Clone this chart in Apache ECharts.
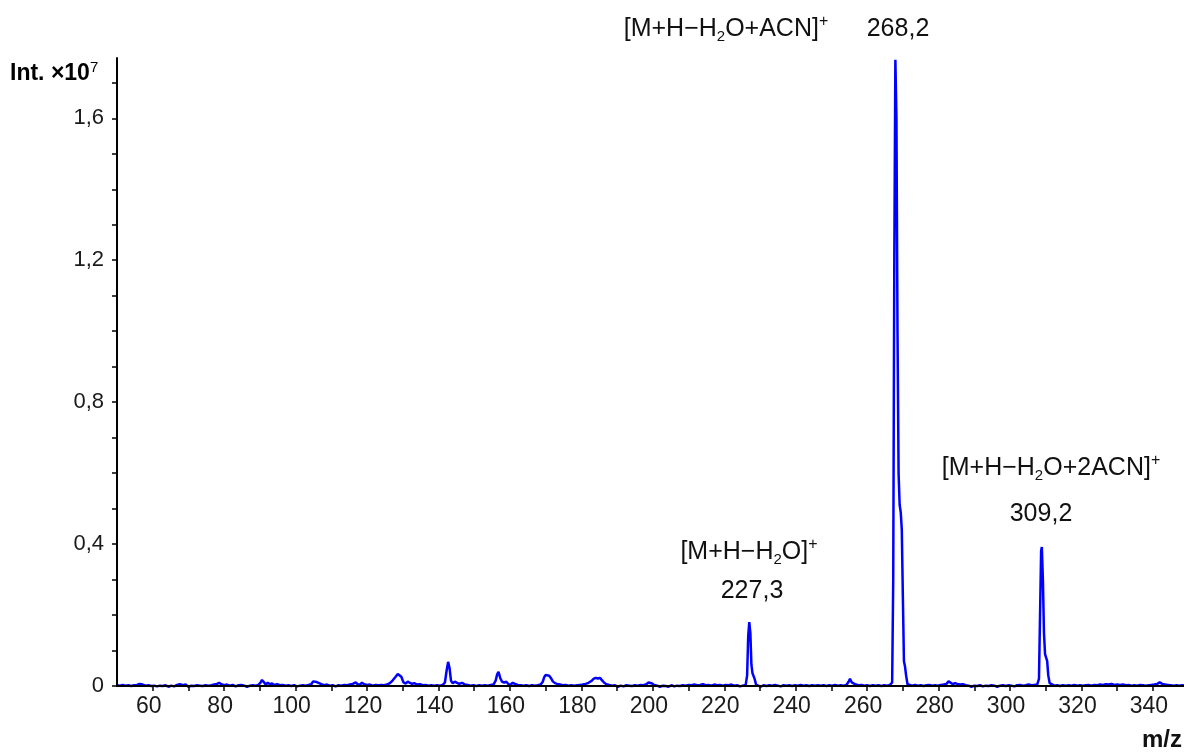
<!DOCTYPE html>
<html><head><meta charset="utf-8">
<script src="https://cdn.jsdelivr.net/npm/echarts@6/dist/echarts.min.js"></script>
<style>html,body{margin:0;padding:0;background:#fff}#c{width:1184px;height:752px}</style>
</head><body><div id="c"></div>
<script>
// m/z values (x) and intensity (×10^7)
const mz = [
50.0,50.8,51.6,52.4,53.2,54.0,54.8,55.6,56.3,56.7,57.2,58.0,58.8,59.6,60.4,61.2,62.0,62.8,63.6,64.4,65.2,66.0,66.8,67.6,68.4,69.2,70.0,70.8,71.6,72.4,
73.2,74.0,74.8,75.6,76.4,77.2,78.0,78.6,79.2,80.0,80.8,81.6,82.4,83.2,84.0,84.8,85.6,86.4,87.2,88.0,88.8,89.6,90.2,90.6,91.1,91.6,92.2,92.8,93.4,94.0,
94.8,95.6,96.4,97.2,98.0,98.8,99.6,100.4,101.2,102.0,102.8,103.6,104.4,104.9,105.4,105.9,106.4,107.2,108.0,108.8,109.6,110.4,111.2,112.0,112.8,113.6,114.4,115.2,116.0,116.8,
117.4,118.0,118.6,119.2,120.0,120.8,121.6,122.4,123.2,124.0,124.8,125.6,126.4,127.2,128.0,128.6,129.1,129.6,130.2,130.8,131.4,132.0,132.6,133.2,134.0,134.8,135.6,136.4,137.2,138.0,
138.8,139.6,140.4,141.2,141.8,142.3,142.7,143.1,143.5,144.0,144.6,145.2,145.8,146.6,147.4,148.2,149.0,149.8,150.6,151.4,152.2,153.0,153.8,154.6,155.4,156.0,156.4,156.8,157.3,157.8,
158.4,159.0,159.6,160.2,160.8,161.4,162.2,163.0,163.8,164.6,165.4,166.2,167.0,167.8,168.6,169.2,169.6,170.0,170.5,171.0,171.5,172.0,172.6,173.2,174.0,174.8,175.6,176.4,177.2,178.0,
178.8,179.6,180.4,181.2,182.0,182.8,183.4,184.0,184.6,185.2,185.8,186.4,187.0,187.8,188.6,189.4,190.2,191.0,191.8,192.6,193.4,194.2,195.0,195.8,196.6,197.4,198.2,198.8,199.3,199.8,
200.4,201.2,202.0,202.8,203.6,204.4,205.2,206.0,206.8,207.6,208.4,209.2,210.0,210.8,211.6,212.4,213.2,214.0,214.8,215.6,216.4,217.2,218.0,218.8,219.6,220.4,221.2,222.0,222.8,223.6,
224.4,225.2,226.0,226.4,226.7,227.0,227.3,227.6,227.9,228.2,228.5,228.9,229.5,230.2,231.0,231.8,232.6,233.4,234.2,235.0,235.8,236.6,237.4,238.2,239.0,239.8,240.6,241.4,242.2,243.0,
243.8,244.6,245.4,246.2,247.0,247.8,248.6,249.4,250.2,251.0,251.8,252.6,253.4,254.2,254.8,255.2,255.7,256.2,256.8,257.6,258.4,259.2,260.0,260.8,261.6,262.4,263.2,264.0,264.8,265.6,
266.4,267.0,267.3,267.6,267.9,268.2,268.5,268.8,269.1,269.4,269.7,270.0,270.3,270.6,270.9,271.3,271.8,272.6,273.4,274.2,275.0,275.8,276.6,277.4,278.2,279.0,279.8,280.6,281.4,282.2,
282.8,283.3,284.0,284.6,285.2,286.0,286.8,287.6,288.4,289.2,290.0,290.8,291.6,292.4,293.2,294.0,294.8,295.6,296.4,297.2,298.0,298.8,299.6,300.4,301.2,302.0,302.8,303.6,304.4,305.2,
306.0,306.8,307.6,308.1,308.4,308.7,308.9,309.2,309.5,309.8,310.1,310.4,310.7,311.1,311.6,312.4,313.2,314.0,314.8,315.6,316.4,317.2,318.0,318.8,319.6,320.4,321.2,322.0,322.8,323.6,
324.4,325.2,326.0,326.8,327.6,328.4,329.2,330.0,330.8,331.6,332.4,333.2,334.0,334.8,335.6,336.4,337.2,338.0,338.8,339.6,340.4,341.2,341.9,342.6,343.4,344.2,345.0,345.8,346.6,347.4,
348.2,349.0
];
const intensity = [
0.002,0.001,0.003,0.001,0.002,0.000,0.002,0.003,0.006,0.009,0.004,0.001,0.002,0.000,0.001,-0.001,0.001,0.000,0.002,-0.002,0.001,-0.001,0.003,0.005,0.002,0.004,-0.002,0.001,0.000,0.002,
0.001,0.000,0.002,0.001,0.002,0.004,0.006,0.009,0.005,0.002,0.004,0.001,0.003,-0.001,0.002,0.003,0.001,-0.002,0.001,0.002,0.001,0.003,0.010,0.017,0.011,0.004,0.009,0.005,0.007,0.003,
0.005,0.002,0.003,0.001,0.002,0.000,0.002,-0.001,0.001,0.002,0.001,0.003,0.005,0.013,0.010,0.011,0.007,0.005,0.002,0.004,0.001,0.002,-0.001,0.002,0.001,0.003,0.002,0.004,0.006,0.010,
0.005,0.004,0.009,0.005,0.003,0.004,0.001,0.003,0.002,0.003,0.002,0.004,0.008,0.016,0.026,0.034,0.037,0.026,0.010,0.007,0.012,0.009,0.006,0.008,0.004,0.005,0.002,0.003,0.001,0.002,
0.001,0.002,0.001,0.003,0.010,0.045,0.068,0.050,0.015,0.008,0.012,0.009,0.006,0.009,0.004,0.003,0.001,0.002,0.000,0.002,0.001,0.002,0.001,0.003,0.004,0.015,0.032,0.040,0.022,0.012,
0.010,0.012,0.005,0.004,0.009,0.006,0.003,0.002,0.001,0.002,0.000,0.002,0.001,0.002,0.004,0.012,0.025,0.031,0.027,0.029,0.022,0.013,0.008,0.006,0.004,0.002,0.003,0.001,0.002,0.001,
0.002,0.003,0.004,0.006,0.009,0.014,0.020,0.023,0.021,0.023,0.016,0.009,0.005,0.003,0.001,0.002,-0.002,0.001,-0.001,0.002,0.001,0.000,0.002,0.001,0.003,0.002,0.005,0.010,0.013,0.007,
0.003,0.001,-0.002,0.001,0.000,-0.002,0.002,-0.001,0.001,0.000,0.002,0.001,0.003,0.002,0.004,0.002,0.003,0.005,0.002,0.003,0.001,0.004,0.002,0.003,0.001,0.003,0.002,0.004,0.001,0.002,
-0.001,0.001,0.003,0.030,0.140,0.180,0.150,0.060,0.036,0.035,0.020,0.004,0.001,-0.002,0.002,0.000,0.002,0.001,0.003,0.001,-0.001,0.002,0.001,0.002,0.000,0.002,0.001,0.003,0.001,0.002,
0.000,0.002,0.001,0.002,0.001,0.002,0.000,0.002,0.001,0.003,0.001,0.002,0.001,0.003,0.012,0.020,0.010,0.006,0.004,0.002,0.003,0.001,0.002,0.000,0.002,0.001,0.002,0.000,0.002,0.001,
0.003,0.010,0.300,1.200,1.765,1.600,1.000,0.600,0.510,0.490,0.440,0.250,0.070,0.055,0.030,0.005,0.002,0.001,0.003,0.001,0.002,0.000,0.002,0.003,0.001,0.002,0.001,0.003,0.004,0.006,
0.013,0.008,0.005,0.008,0.006,0.004,0.005,0.002,0.001,-0.002,0.001,0.000,0.002,-0.001,0.001,0.000,0.002,0.001,-0.002,0.001,0.002,0.000,0.002,0.001,-0.001,0.002,0.003,0.001,0.002,0.004,
0.002,0.003,0.004,0.020,0.200,0.380,0.392,0.300,0.150,0.090,0.087,0.070,0.030,0.008,0.003,0.001,0.002,0.000,0.002,0.001,0.002,0.001,0.003,0.001,0.002,0.001,0.002,0.003,0.001,0.003,
0.002,0.004,0.003,0.005,0.004,0.006,0.003,0.004,0.003,0.004,0.002,0.003,0.001,0.002,0.001,0.003,0.002,0.001,0.002,0.003,0.004,0.006,0.010,0.006,0.004,0.003,0.002,0.001,0.002,0.001,
0.002,0.001
];
const xTickLabels = [60,80,100,120,140,160,180,200,220,240,260,280,300,320,340];
const xTickMarks = [60,70,80,90,100,110,120,130,140,150,160,170,180,190,200,210,220,230,240,250,260,270,280,290,300,310,320,330,340];
const yTickLabels = [0,0.4,0.8,1.2,1.6];
const yTickMarks = [0,0.1,0.2,0.3,0.4,0.5,0.6,0.7,0.8,0.9,1.0,1.1,1.2,1.3,1.4,1.5,1.6,1.7];
const peakValues = ['268,2','227,3','309,2'];
const ionFormulas = [
  '{n|[M+H−H}{s|2}{n|O+ACN]}{p|+}',
  '{n|[M+H−H}{s|2}{n|O]}{p|+}',
  '{n|[M+H−H}{s|2}{n|O+2ACN]}{p|+}'
];

const FONT = 'Liberation Sans, Arial, sans-serif';
const annRich = {
  n: {fontSize: 25, fontFamily: FONT, color: '#111', lineHeight: 30},
  s: {fontSize: 15, fontFamily: FONT, color: '#111', lineHeight: 12, verticalAlign: 'bottom'},
  p: {fontSize: 16, fontFamily: FONT, color: '#111', lineHeight: 24, verticalAlign: 'top'}
};
function annText(text, x, y, rich) {
  return {
    type: 'text', x: x, y: y, z: 10,
    style: {
      text: text, rich: rich, fill: '#111', font: '25px ' + FONT,
      align: 'center', verticalAlign: 'middle', textAlign: 'center', textVerticalAlign: 'middle'
    }
  };
}
const chart = echarts.init(document.getElementById('c'), null, {renderer: 'canvas'});
chart.setOption({
  animation: false,
  backgroundColor: '#fff',
  grid: {left: 117, right: 0, top: 58, bottom: 66, containLabel: false},
  xAxis: {
    type: 'value', min: 50, max: 348.7, interval: 10, z: 3,
    axisLine: {show: true, onZero: false, lineStyle: {color: '#000', width: 2}},
    axisTick: {show: true, inside: false, length: 5, customValues: xTickMarks, lineStyle: {color: '#000', width: 1.5}},
    axisLabel: {
      customValues: xTickLabels, margin: 9, fontSize: 23, fontFamily: FONT, color: '#1a1a1a',
      padding: [0, 8, 0, 0],
      formatter: v => (v % 20 === 0 && v >= 60) ? String(v) : ''
    },
    splitLine: {show: false}
  },
  yAxis: {
    type: 'value', min: 0, max: 1.77, interval: 0.1, z: 3,
    axisLine: {show: true, lineStyle: {color: '#000', width: 2}},
    axisTick: {show: true, inside: false, length: 5, customValues: yTickMarks, lineStyle: {color: '#000', width: 1.5}},
    axisLabel: {
      customValues: yTickLabels, margin: 13, fontSize: 22, fontFamily: FONT, color: '#1a1a1a',
      formatter: v => {
        const r = Math.round(v * 10) / 10;
        if (Math.abs(r * 10 % 4) > 1e-6) return '';
        return r === 0 ? '0' : r.toFixed(1).replace('.', ',');
      }
    },
    splitLine: {show: false}
  },
  series: [{
    type: 'line', showSymbol: false, symbol: 'none', clip: false, z: 2,
    lineStyle: {color: '#0000ff', width: 2.5},
    data: mz.map((x, i) => [x, intensity[i]])
  }],
  graphic: [
    annText(ionFormulas[0], 726, 29, annRich),
    annText('{n|' + peakValues[0] + '}', 898, 29, annRich),
    annText(ionFormulas[1], 749, 552, annRich),
    annText('{n|' + peakValues[1] + '}', 752, 591, annRich),
    annText(ionFormulas[2], 1051, 468, annRich),
    annText('{n|' + peakValues[2] + '}', 1041, 514, annRich),
    {
      type: 'text', x: 10, y: 74, z: 10,
      style: {
        text: '{b|Int. ×10}{e|7}',
        rich: {
          b: {fontSize: 23, fontWeight: 'bold', fontFamily: FONT, color: '#111', lineHeight: 28},
          e: {fontSize: 15, fontFamily: FONT, color: '#111', lineHeight: 22, verticalAlign: 'top'}
        },
        align: 'left', verticalAlign: 'middle', textAlign: 'left', textVerticalAlign: 'middle'
      }
    },
    {
      type: 'text', x: 1182, y: 740, z: 10,
      style: {
        text: 'm/z', fill: '#111', font: 'bold 24px ' + FONT,
        align: 'right', verticalAlign: 'middle', textAlign: 'right', textVerticalAlign: 'middle'
      }
    }
  ]
});
</script>
</body></html>
